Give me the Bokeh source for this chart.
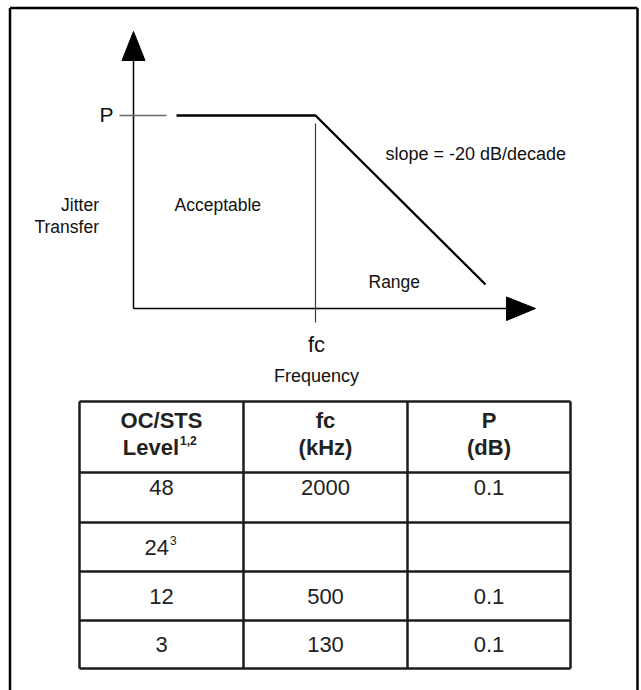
from bokeh.plotting import figure
from bokeh.models import ColumnDataSource
from bokeh.core.properties import value
from bokeh.embed import file_html
from bokeh.resources import INLINE

# ---------------- data ----------------
header_top = ["OC/STS", "fc", "P"]
header_bottom = ["Level", "(kHz)", "(dB)"]
header_notes = ["1,2", "", ""]
levels = ["48", "24", "12", "3"]
level_notes = ["", "3", "", ""]
fc_khz = ["2000", "", "500", "130"]
p_db = ["0.1", "", "0.1", "0.1"]

# schematic jitter-transfer curve (diagram space = page pixels)
curve_x = [176, 315, 485]
curve_y = [115, 115, 284]
p_tick_x = [119, 166]
fc_line_x = 315
fc_line_y = [123, 322]

# table grid
col_edges = [79, 243, 407, 570]
row_edges = [401, 472, 522, 571, 620, 668]

FONT = value("Liberation Sans")
W, H = 641, 690
OX, OY = 0, 0

p = figure(width=W, height=H, x_range=(OX, OX + W), y_range=(OY + H, OY),
           output_backend="svg", toolbar_location=None, min_border=0,
           outline_line_color=None, x_axis_location=None, y_axis_location=None,
           tools="")
p.grid.visible = False
p.background_fill_color = "white"
p.border_fill_color = "white"

# outer frame (open at the bottom)
p.multi_line(xs=[[9.5, 9.5], [9.5, 637], [637, 637]],
             ys=[[690, 7.5], [7.5, 7.5], [7.5, 690]],
             line_color="black", line_width=2.5)

# axes with arrows
ax_x0, ax_y0 = 133, 308
p.line([ax_x0, ax_x0], [ax_y0, 58], line_color="black", line_width=1.5)
p.line([ax_x0, 508], [ax_y0, ax_y0], line_color="black", line_width=1.5)
p.patch([ax_x0, ax_x0 - 11.5, ax_x0 + 11.5], [31, 60, 60], color="black")
p.patch([506, 506, 535], [296.5, 320, ax_y0], color="black")

# P marker, fc marker, curve
p.line(p_tick_x, [curve_y[0], curve_y[0]], line_color="#6a6a6a", line_width=1.6)
p.line([fc_line_x, fc_line_x], fc_line_y, line_color="#3a3a3a", line_width=1.2)
p.line(curve_x, curve_y, line_color="black", line_width=2.3)

def txt(x, y, t, size, align="left", bold=False, color="#111111"):
    src = ColumnDataSource(dict(x=[x], y=[y], t=[t]))
    p.text(x="x", y="y", text="t", source=src, text_font=FONT,
           text_font_size=value(size), text_align=align,
           text_baseline="middle", text_color=color,
           text_font_style="bold" if bold else "normal")

# diagram labels
txt(106, curve_y[0] - 1, "P", "21px", "center")
txt(385, 153, "slope = -20 dB/decade", "18px")
txt(98.5, 204, "Jitter", "17.5px", "right")
txt(98.5, 226, "Transfer", "17.5px", "right")
txt(174, 204, "Acceptable", "17.5px")
txt(368, 281, "Range", "17.5px")
txt(fc_line_x + 1, 344, "fc", "22px", "center")
txt(fc_line_x + 1, 375, "Frequency", "18px", "center")

# table grid
tx0, tx1 = col_edges[0], col_edges[-1]
ty0, ty1 = row_edges[0], row_edges[-1]
xs = [[tx0, tx1] for _ in row_edges] + [[c, c] for c in col_edges]
ys = [[r, r] for r in row_edges] + [[ty0, ty1] for _ in col_edges]
p.multi_line(xs=xs, ys=ys, line_color="#1c1c1c", line_width=2.5)

centers = [(col_edges[i] + col_edges[i + 1]) / 2 for i in range(3)]

# header
for i in range(3):
    txt(centers[i], 420, header_top[i], "22px", "center", bold=True, color="#222222")
    if header_notes[i]:
        txt(centers[i] + 17.5, 447, header_bottom[i], "22px", "right", bold=True, color="#222222")
        txt(centers[i] + 18.5, 440, header_notes[i], "12px", "left", bold=True, color="#222222")
    else:
        txt(centers[i], 447, header_bottom[i], "22px", "center", bold=True, color="#222222")

# body rows
row_text_y = [487, 547, 596, 644]
for r in range(4):
    y = row_text_y[r]
    if level_notes[r]:
        txt(centers[0] + 7.5, y, levels[r], "22px", "right", color="#222222")
        txt(centers[0] + 8.5, y - 7, level_notes[r], "12px", "left", color="#222222")
    else:
        txt(centers[0], y, levels[r], "22px", "center", color="#222222")
    txt(centers[1], y, fc_khz[r], "22px", "center", color="#222222")
    txt(centers[2], y, p_db[r], "22px", "center", color="#222222")

open("out.html", "w").write(file_html(p, INLINE))
